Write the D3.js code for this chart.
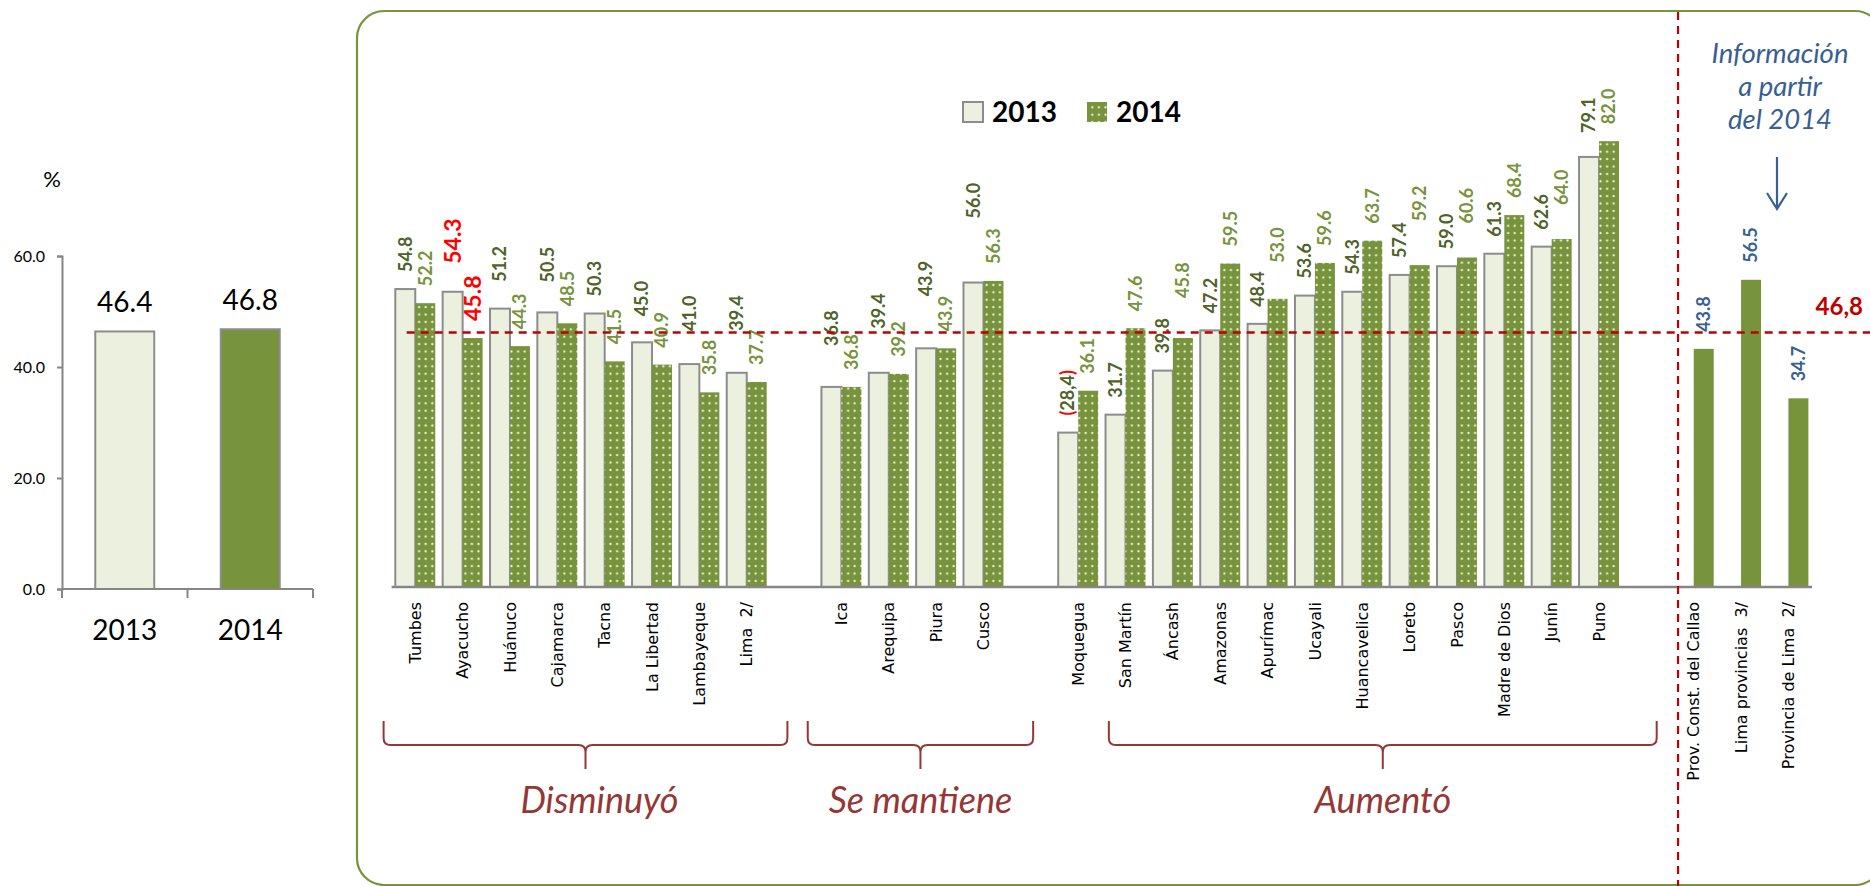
<!DOCTYPE html>
<html>
<head>
<meta charset="utf-8">
<script src="https://cdn.jsdelivr.net/npm/d3@7"></script>
<style>
  body { margin: 0; background: #fff; }
  svg { display: block; }
</style>
</head>
<body>
<div id="chart"></div>
<script>
const width = 1870;
const height = 886;

// Left panel: national total
const summaryYears = ["2013", "2014"];
const summaryValues = [46.4, 46.8];
const summaryTicks = [0, 20, 40, 60];

// Regions by group (same order as the bars)
const groupDisminuyo = ["Tumbes", "Ayacucho", "Huánuco", "Cajamarca", "Tacna", "La Libertad", "Lambayeque", "Lima  2/"];
const groupSeMantiene = ["Ica", "Arequipa", "Piura", "Cusco"];
const groupAumento = ["Moquegua", "San Martín", "Áncash", "Amazonas", "Apurímac", "Ucayali", "Huancavelica", "Loreto", "Pasco", "Madre de Dios", "Junín", "Puno"];
const regions = [...groupDisminuyo, ...groupSeMantiene, ...groupAumento];

const values2013 = [54.8, 54.3, 51.2, 50.5, 50.3, 45.0, 41.0, 39.4,
                    36.8, 39.4, 43.9, 56.0,
                    28.4, 31.7, 39.8, 47.2, 48.4, 53.6, 54.3, 57.4, 59.0, 61.3, 62.6, 79.1];
const values2014 = [52.2, 45.8, 44.3, 48.5, 41.5, 40.9, 35.8, 37.7,
                    36.8, 39.2, 43.9, 56.3,
                    36.1, 47.6, 45.8, 59.5, 53.0, 59.6, 63.7, 59.2, 60.6, 68.4, 64.0, 82.0];

// Only available from 2014
const newRegions = ["Prov. Const. del Callao", "Lima provincias  3/", "Provincia de Lima  2/"];
const newValues2014 = [43.8, 56.5, 34.7];

const nationalAvg = 46.8;

// colours
const c2013Fill = "#EBF1DE";
const c2014Fill = "#77933C";
const cBarStroke = "#8C8C8C";
const cLabel2013 = "#4F6228";
const cLabel2014 = "#77933C";
const cRed = "#C00000";
const cBrace = "#953735";
const cBlue = "#376092";
const cPanel = "#77933C";

const sans = "'DejaVu Sans', Verdana, sans-serif";
const narrow = "'Liberation Sans Narrow', Lato, sans-serif";
const calib = "Lato, 'Open Sans', sans-serif";

// labels that sit higher than the usual gap above the bar (extra px)
const lift2013 = { "Ayacucho": 11, "Huánuco": 10, "Cajamarca": 13, "La Libertad": 9, "Lambayeque": 16,
                   "Lima  2/": 25, "Ica": 24, "Arequipa": 27, "Piura": 35, "Cusco": 47, "Puno": 7 };
const lift2014 = { "Áncash": 23, "Apurímac": 19, "Loreto": 27, "Pasco": 17, "Junín": 17 };
const highlighted = ["Ayacucho"];

const fmt = d3.format(".1f");

const svg = d3.select("#chart").append("svg")
    .attr("width", width)
    .attr("height", height);

// dotted fill for 2014 bars
const defs = svg.append("defs");
const pat = defs.append("pattern")
    .attr("id", "dots")
    .attr("patternUnits", "userSpaceOnUse")
    .attr("width", 6.6)
    .attr("height", 7.4);
pat.append("rect").attr("width", 6.6).attr("height", 7.4).attr("fill", c2014Fill);
pat.append("circle").attr("cx", 3.3).attr("cy", 3.7).attr("r", 1.1).attr("fill", "#F2F6EA");

// ---------- left summary chart ----------
const xL = d3.scaleBand().domain(summaryYears).range([62, 313]).paddingInner(0.53).paddingOuter(0.265);
const yL = d3.scaleLinear().domain([0, 60]).range([589, 256]);

const left = svg.append("g");

const axL = left.append("g")
    .attr("transform", "translate(62,0)")
    .call(d3.axisLeft(yL).tickValues(summaryTicks).tickFormat(fmt).tickSize(5).tickPadding(12));
axL.select(".domain").attr("stroke", "#868686").attr("stroke-width", 2);
axL.selectAll(".tick line").attr("stroke", "#868686").attr("stroke-width", 2);
axL.selectAll(".tick text").attr("font-family", calib).attr("font-size", 16).attr("fill", "#000");

left.selectAll("rect.sum")
    .data(summaryValues)
    .enter()
    .append("rect")
    .attr("class", "sum")
    .attr("x", (d, i) => xL(summaryYears[i]))
    .attr("y", d => yL(d))
    .attr("width", xL.bandwidth())
    .attr("height", d => yL(0) - yL(d))
    .attr("fill", (d, i) => i === 0 ? c2013Fill : c2014Fill)
    .attr("stroke", cBarStroke)
    .attr("stroke-width", 2);

left.append("line")
    .attr("x1", 62).attr("x2", 313)
    .attr("y1", yL(0)).attr("y2", yL(0))
    .attr("stroke", "#868686").attr("stroke-width", 2);

left.selectAll("line.sep")
    .data([0, 1, 2])
    .enter()
    .append("line")
    .attr("class", "sep")
    .attr("x1", d => 62 + d * xL.step())
    .attr("x2", d => 62 + d * xL.step())
    .attr("y1", yL(0)).attr("y2", yL(0) + 9)
    .attr("stroke", "#868686").attr("stroke-width", 2);

left.selectAll("text.sumval")
    .data(summaryValues)
    .enter()
    .append("text")
    .attr("class", "sumval")
    .attr("x", (d, i) => xL(summaryYears[i]) + xL.bandwidth() / 2)
    .attr("y", d => yL(d) - 19)
    .attr("text-anchor", "middle")
    .attr("font-family", calib)
    .attr("font-size", 28)
    .text(d => fmt(d));

left.selectAll("text.sumyear")
    .data(summaryYears)
    .enter()
    .append("text")
    .attr("class", "sumyear")
    .attr("x", d => xL(d) + xL.bandwidth() / 2)
    .attr("y", 640)
    .attr("text-anchor", "middle")
    .attr("font-family", calib)
    .attr("font-size", 28)
    .text(d => d);

left.append("text")
    .attr("x", 52).attr("y", 187)
    .attr("text-anchor", "middle")
    .attr("font-family", calib)
    .attr("font-size", 22)
    .text("%");

// ---------- main panel ----------
svg.append("rect")
    .attr("x", 357).attr("y", 11)
    .attr("width", 1525).attr("height", 874)
    .attr("rx", 27).attr("ry", 27)
    .attr("fill", "none")
    .attr("stroke", cPanel)
    .attr("stroke-width", 2.2);

const slots = [...groupDisminuyo, "_g1", ...groupSeMantiene, "_g2", ...groupAumento, "_g3", ...newRegions];
const x = d3.scaleBand().domain(slots).range([391.6, 1812.1]);
const xs = d3.scaleBand().domain(["2013", "2014"]).range([0, x.bandwidth()]).paddingOuter(0.185);
const y = d3.scaleLinear().domain([0, 90]).range([587, 587 - 90 * 5.437]);

const main = svg.append("g");

// 2013 bars
main.selectAll("rect.b13")
    .data(regions)
    .enter()
    .append("rect")
    .attr("class", "b13")
    .attr("x", d => x(d) + xs("2013"))
    .attr("y", (d, i) => y(values2013[i]))
    .attr("width", xs.bandwidth())
    .attr("height", (d, i) => y(0) - y(values2013[i]))
    .attr("fill", c2013Fill)
    .attr("stroke", cBarStroke)
    .attr("stroke-width", 2);

// 2014 bars
main.selectAll("rect.b14")
    .data(regions)
    .enter()
    .append("rect")
    .attr("class", "b14")
    .attr("x", d => x(d) + xs("2014"))
    .attr("y", (d, i) => y(values2014[i]))
    .attr("width", xs.bandwidth())
    .attr("height", (d, i) => y(0) - y(values2014[i]))
    .attr("fill", "url(#dots)");

// 2014-only bars
main.selectAll("rect.bnew")
    .data(newRegions)
    .enter()
    .append("rect")
    .attr("class", "bnew")
    .attr("x", d => x(d) + xs("2014"))
    .attr("y", (d, i) => y(newValues2014[i]))
    .attr("width", xs.bandwidth())
    .attr("height", (d, i) => y(0) - y(newValues2014[i]))
    .attr("fill", c2014Fill);

// x axis line
main.append("line")
    .attr("x1", x.range()[0]).attr("x2", x.range()[1])
    .attr("y1", y(0)).attr("y2", y(0))
    .attr("stroke", "#868686").attr("stroke-width", 2.5);

// value labels
function valueLabel(cx, top, gap, txt, color, size) {
    return main.append("text")
        .attr("transform", `translate(${cx},${top - gap}) rotate(-90)`)
        .attr("dy", "0.35em")
        .attr("font-family", narrow)
        .attr("font-weight", "bold")
        .attr("font-size", size)
        .attr("fill", color)
        .text(txt);
}

regions.forEach((r, i) => {
    const hi = highlighted.includes(r);
    const cx13 = x(r) + xs("2013") + xs.bandwidth() / 2;
    const cx14 = x(r) + xs("2014") + xs.bandwidth() / 2;
    if (r === "Moquegua") {
        const t = valueLabel(cx13, y(values2013[i]), 17, "", cLabel2013, 18);
        t.append("tspan").attr("fill", "#FF0000").text("(");
        t.append("tspan").text(String(values2013[i].toFixed(1)).replace(".", ","));
        t.append("tspan").attr("fill", "#FF0000").text(")");
    } else {
        valueLabel(cx13, y(values2013[i]), 17 + (lift2013[r] || 0), fmt(values2013[i]),
            hi ? "#FF0000" : cLabel2013, hi ? 23 : 18);
    }
    valueLabel(cx14, y(values2014[i]), 17 + (lift2014[r] || 0), fmt(values2014[i]),
        hi ? "#FF0000" : cLabel2014, hi ? 23 : 18);
});

newRegions.forEach((r, i) => {
    valueLabel(x(r) + xs("2014") + xs.bandwidth() / 2, y(newValues2014[i]), 17,
        fmt(newValues2014[i]), cBlue, 18);
});

// category labels
main.selectAll("text.cat")
    .data([...regions, ...newRegions])
    .enter()
    .append("text")
    .attr("class", "cat")
    .attr("transform", d => `translate(${x(d) + x.bandwidth() / 2},602) rotate(-90)`)
    .attr("dy", "0.35em")
    .attr("text-anchor", "end")
    .attr("font-family", sans)
    .attr("font-size", 16)
    .attr("fill", "#000")
    .style("white-space", "pre")
    .text(d => d);

// national average line
main.append("line")
    .attr("x1", 406.7).attr("x2", width)
    .attr("y1", y(nationalAvg)).attr("y2", y(nationalAvg))
    .attr("stroke", cRed).attr("stroke-width", 2.5)
    .attr("stroke-dasharray", "8,6");

main.append("text")
    .attr("x", 1863).attr("y", y(nationalAvg) - 18)
    .attr("text-anchor", "end")
    .attr("font-family", calib)
    .attr("font-weight", "bold")
    .attr("font-size", 24)
    .attr("fill", cRed)
    .text("46,8");

// separator before 2014-only regions
const sepX = x(newRegions[0]) + 8;
main.append("line")
    .attr("x1", sepX).attr("x2", sepX)
    .attr("y1", 12).attr("y2", height)
    .attr("stroke", cRed).attr("stroke-width", 2.2)
    .attr("stroke-dasharray", "8,6");

// note + arrow
const note = main.append("text")
    .attr("text-anchor", "middle")
    .attr("font-family", calib)
    .attr("font-style", "italic")
    .attr("font-size", 27.5)
    .attr("fill", cBlue);
["Información", "a partir", "del 2014"].forEach((s, i) => {
    note.append("tspan").attr("x", 1780).attr("y", 63 + i * 33).text(s);
});
main.append("path")
    .attr("d", "M1777,157 L1777,209 M1767,193 L1777,209 L1787,193")
    .attr("fill", "none")
    .attr("stroke", cBlue)
    .attr("stroke-width", 2.2);

// legend
const legend = main.append("g");
[["2013", c2013Fill, 963], ["2014", "url(#dots)", 1087]].forEach(([lab, fill, lx]) => {
    legend.append("rect")
        .attr("x", lx).attr("y", 102).attr("width", 20).attr("height", 20)
        .attr("fill", fill)
        .attr("stroke", lab === "2013" ? cBarStroke : "none")
        .attr("stroke-width", 2);
    legend.append("text")
        .attr("x", lx + 29).attr("y", 122)
        .attr("font-family", calib)
        .attr("font-weight", "bold")
        .attr("font-size", 28)
        .text(lab);
});

// braces with group names
const braces = [
    { label: "Disminuyó", from: groupDisminuyo[0], to: groupDisminuyo[groupDisminuyo.length - 1], padL: -8, padR: 17, dx: 14 },
    { label: "Se mantiene", from: groupSeMantiene[0], to: groupSeMantiene[groupSeMantiene.length - 1], padL: -10, padR: 26, dx: 0 },
    { label: "Aumentó", from: groupAumento[1], to: groupAumento[groupAumento.length - 1], padL: 7, padR: 34, dx: 0 }
];

function bracePath(x0, x1, yTop, yMid, yTip) {
    const xc = (x0 + x1) / 2, r = 7;
    return `M${x0},${yTop} L${x0},${yMid - r} Q${x0},${yMid} ${x0 + r},${yMid} L${xc - r},${yMid} Q${xc},${yMid} ${xc},${yMid + r} L${xc},${yTip}` +
           ` M${x1},${yTop} L${x1},${yMid - r} Q${x1},${yMid} ${x1 - r},${yMid} L${xc + r},${yMid} Q${xc},${yMid} ${xc},${yMid + r}`;
}

braces.forEach(b => {
    const x0 = x(b.from) + b.padL;
    const x1 = x(b.to) + x.bandwidth() + b.padR;
    main.append("path")
        .attr("d", bracePath(x0, x1, 721, 745, 769))
        .attr("fill", "none")
        .attr("stroke", cBrace)
        .attr("stroke-width", 2);
    main.append("text")
        .attr("x", (x0 + x1) / 2 + b.dx)
        .attr("y", 813)
        .attr("text-anchor", "middle")
        .attr("font-family", calib)
        .attr("font-style", "italic")
        .attr("font-size", 36)
        .attr("fill", cBrace)
        .text(b.label);
});
</script>
</body>
</html>
